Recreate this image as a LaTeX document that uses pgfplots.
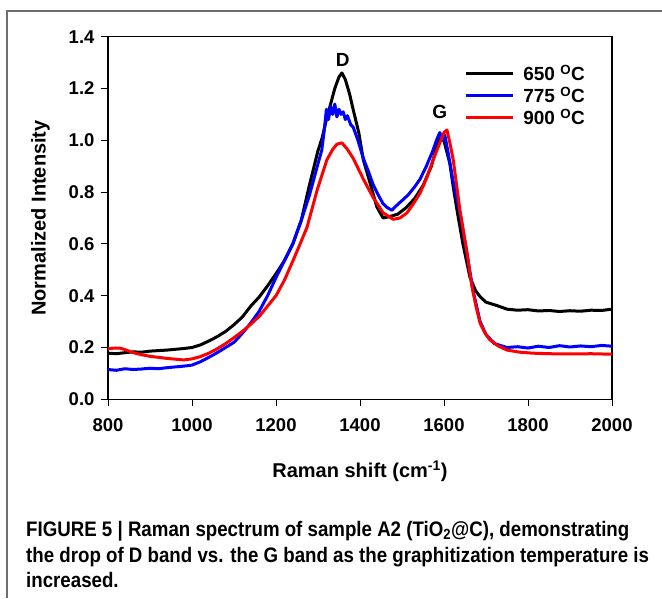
\documentclass[border=0pt]{standalone}
\usepackage{pgfplots}
\pgfplotsset{compat=1.18}
\usepackage{fontspec}
\setmainfont{Liberation Sans}
\newfontfamily\capfont[FakeStretch=0.89]{Liberation Sans}
\definecolor{framegray}{RGB}{110,110,110}
\definecolor{myblue}{RGB}{0,0,255}
\definecolor{myred}{RGB}{255,0,0}

\pgfplotstableread{
x y
800 0.178
820 0.176
840 0.180
860 0.183
880 0.182
900 0.186
920 0.188
940 0.190
960 0.193
980 0.196
1000 0.200
1020 0.210
1040 0.225
1060 0.242
1080 0.262
1100 0.288
1120 0.318
1140 0.360
1160 0.395
1180 0.438
1200 0.485
1220 0.535
1240 0.600
1260 0.690
1280 0.830
1300 0.960
1310 1.010
1320 1.080
1330 1.140
1340 1.200
1350 1.245
1357 1.260
1365 1.235
1375 1.180
1384 1.117
1397 1.030
1408 0.924
1424 0.835
1440 0.743
1455 0.700
1470 0.705
1490 0.715
1510 0.740
1530 0.775
1550 0.825
1570 0.900
1580 0.960
1590 1.020
1598 1.010
1606 0.960
1614 0.910
1622 0.820
1631 0.730
1645 0.600
1662 0.470
1675 0.420
1686 0.396
1700 0.375
1726 0.362
1750 0.348
1775 0.344
1800 0.346
1825 0.341
1850 0.343
1875 0.339
1900 0.342
1925 0.340
1950 0.344
1975 0.343
2000 0.348
}\blackdata

\pgfplotstableread{
x y
800 0.115
820 0.112
840 0.118
860 0.115
880 0.117
900 0.120
920 0.118
940 0.122
960 0.125
980 0.128
1000 0.132
1020 0.145
1040 0.162
1060 0.180
1080 0.200
1100 0.220
1120 0.255
1140 0.295
1160 0.340
1180 0.400
1200 0.470
1220 0.535
1240 0.600
1260 0.690
1280 0.790
1290 0.850
1300 0.910
1309 0.962
1315 1.040
1320 1.120
1325 1.080
1330 1.130
1335 1.100
1340 1.140
1345 1.090
1350 1.120
1355 1.100
1360 1.110
1365 1.080
1370 1.095
1378 1.060
1384 1.050
1395 1.000
1408 0.930
1420 0.880
1431 0.830
1443 0.790
1455 0.755
1465 0.740
1476 0.730
1485 0.745
1495 0.760
1502 0.770
1515 0.790
1530 0.820
1543 0.850
1558 0.900
1574 0.962
1582 1.000
1590 1.030
1596 1.000
1602 1.020
1610 0.950
1622 0.840
1638 0.720
1655 0.560
1669 0.420
1686 0.300
1700 0.250
1720 0.215
1750 0.200
1775 0.203
1800 0.198
1825 0.205
1850 0.200
1875 0.207
1900 0.202
1925 0.206
1950 0.203
1975 0.208
2000 0.205
}\bluedata

\pgfplotstableread{
x y
800 0.195
815 0.198
828 0.198
840 0.192
860 0.180
880 0.172
900 0.166
920 0.162
940 0.158
960 0.155
980 0.152
1000 0.156
1020 0.165
1040 0.178
1060 0.195
1080 0.215
1100 0.238
1120 0.262
1140 0.290
1160 0.320
1180 0.360
1200 0.400
1220 0.460
1241 0.537
1260 0.610
1274 0.665
1298 0.808
1321 0.924
1335 0.965
1345 0.985
1357 0.990
1370 0.965
1384 0.930
1396 0.890
1408 0.850
1431 0.780
1455 0.720
1479 0.695
1495 0.700
1512 0.720
1527 0.755
1543 0.796
1560 0.860
1574 0.924
1590 0.990
1600 1.030
1607 1.040
1614 0.990
1622 0.924
1638 0.730
1655 0.564
1666 0.440
1676 0.360
1686 0.294
1698 0.255
1709 0.230
1730 0.205
1750 0.190
1780 0.182
1812 0.178
1850 0.176
1900 0.175
1950 0.176
2000 0.174
}\reddata

\begin{document}
\begin{tikzpicture}
\path[use as bounding box] (-108pt,-198.7pt) rectangle (554pt,399.3pt);
\draw[framegray, line width=1.3pt] (-101pt,-198.7pt) -- (-101pt,388.3pt) -- (554pt,388.3pt);
\begin{axis}[
  at={(0pt,0pt)}, anchor=south west,
  scale only axis,
  width=504pt, height=362.6pt,
  xmin=800, xmax=2000, ymin=0, ymax=1.4,
  xtick={800,1000,...,2000},
  ytick={0,0.2,...,1.4},
  /pgf/number format/assume math mode=true,
  ticklabel style={font=\fontsize{18.5}{21}\selectfont\bfseries},
  xticklabel style={yshift=-9pt, /pgf/number format/1000 sep={}},
  yticklabel style={xshift=-3pt, /pgf/number format/fixed, /pgf/number format/fixed zerofill, /pgf/number format/precision=1},
  tick align=outside,
  xtick pos=bottom, ytick pos=left,
  major tick length=7pt,
  every tick/.style={black, line width=0.9pt},
  axis line style={black, line width=1.1pt},
  xlabel={Raman shift (cm\textsuperscript{-1})},
  ylabel={Normalized Intensity},
  label style={font=\fontsize{20}{23}\selectfont\bfseries},
  xlabel style={yshift=-22pt},
  ylabel style={yshift=12pt},
  legend style={at={(axis cs:1648,1.30)}, anchor=north west, draw=none, fill=none,
    font=\fontsize{19}{21}\selectfont\bfseries, row sep=1pt,
    legend cell align=left, inner sep=0pt},
  legend image code/.code={\draw[#1] (0pt,0pt) -- (47pt,0pt); \path (54pt,0pt);},
  clip=true,
]
\addplot[black, line width=3pt, line join=round] table[x=x,y=y] {\blackdata};
\addlegendentry{650 \textsuperscript{O}C}
\addplot[myblue, line width=3pt, line join=round] table[x=x,y=y] {\bluedata};
\addlegendentry{775 \textsuperscript{O}C}
\addplot[myred, line width=3pt, line join=round] table[x=x,y=y] {\reddata};
\addlegendentry{900 \textsuperscript{O}C}
\node[font=\fontsize{19}{21}\selectfont\bfseries] at (axis cs:1359,1.31) {D};
\node[font=\fontsize{19}{21}\selectfont\bfseries] at (axis cs:1590,1.11) {G};
\end{axis}
\node[anchor=base west, font=\capfont\bfseries\fontsize{21}{24}\selectfont, inner sep=0pt] at (-82pt,-136.7pt) {FIGURE 5 | Raman spectrum of sample A2 (TiO\textsubscript{2}@C), demonstrating};
\node[anchor=base west, font=\capfont\bfseries\fontsize{21}{24}\selectfont, inner sep=0pt] at (-82pt,-162.7pt) {the drop of D band vs. the G band as the graphitization temperature is};
\node[anchor=base west, font=\capfont\bfseries\fontsize{21}{24}\selectfont, inner sep=0pt] at (-82pt,-187.7pt) {increased.};
\end{tikzpicture}
\end{document}
